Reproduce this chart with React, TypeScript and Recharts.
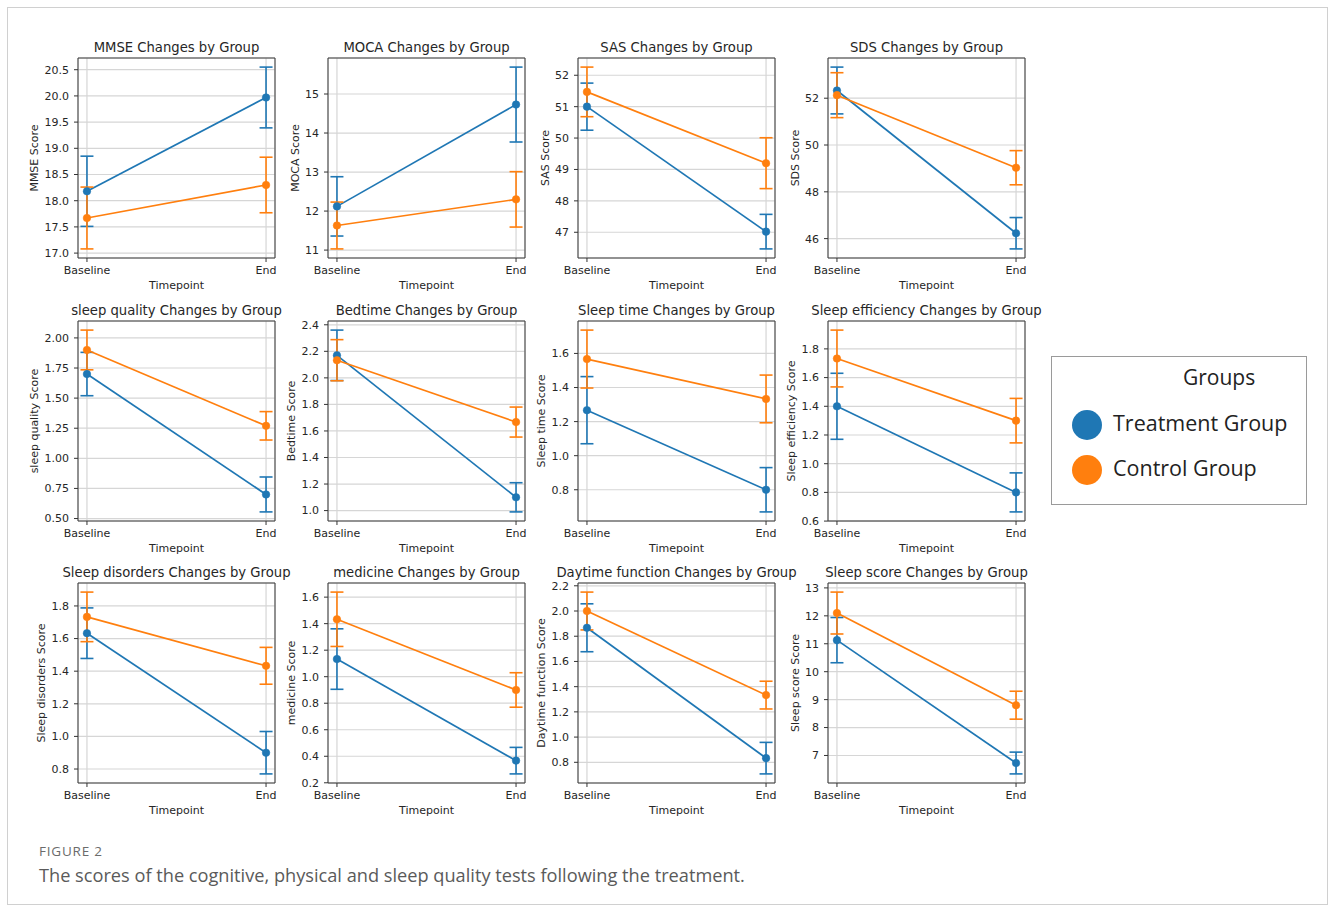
import React from "react";
import {
  LineChart,
  Line,
  XAxis,
  YAxis,
  CartesianGrid,
  ErrorBar,
  ReferenceArea,
} from "recharts";

const measures = [
  "MMSE",
  "MOCA",
  "SAS",
  "SDS",
  "sleep quality",
  "Bedtime",
  "Sleep time",
  "Sleep efficiency",
  "Sleep disorders",
  "medicine",
  "Daytime function",
  "Sleep score",
];
const timepoints = ["Baseline", "End"];
const groups = ["Treatment Group", "Control Group"];

// means and error half-widths
const treatmentBaseline = [18.18, 12.12, 51.0, 52.33, 1.7, 2.17, 1.267, 1.4, 1.633, 1.133, 1.867, 11.13];
const treatmentBaselineErr = [0.67, 0.76, 0.75, 1.0, 0.18, 0.19, 0.197, 0.23, 0.155, 0.228, 0.19, 0.81];
const treatmentEnd = [19.97, 14.73, 47.02, 46.23, 0.7, 1.1, 0.8, 0.8, 0.9, 0.367, 0.833, 6.73];
const treatmentEndErr = [0.58, 0.96, 0.55, 0.67, 0.145, 0.11, 0.13, 0.136, 0.13, 0.1, 0.125, 0.39];
const controlBaseline = [17.67, 11.63, 51.47, 52.13, 1.9, 2.133, 1.567, 1.733, 1.733, 1.433, 2.0, 12.1];
const controlBaselineErr = [0.59, 0.6, 0.79, 0.96, 0.165, 0.155, 0.17, 0.198, 0.152, 0.205, 0.15, 0.75];
const controlEnd = [18.3, 12.3, 49.2, 49.03, 1.27, 1.667, 1.333, 1.3, 1.433, 0.9, 1.333, 8.8];
const controlEndErr = [0.53, 0.71, 0.81, 0.73, 0.118, 0.113, 0.14, 0.155, 0.113, 0.13, 0.11, 0.5];

const yTicks = [
  [17, 17.5, 18, 18.5, 19, 19.5, 20, 20.5],
  [11, 12, 13, 14, 15],
  [47, 48, 49, 50, 51, 52],
  [46, 48, 50, 52],
  [0.5, 0.75, 1, 1.25, 1.5, 1.75, 2],
  [1, 1.2, 1.4, 1.6, 1.8, 2, 2.2, 2.4],
  [0.8, 1, 1.2, 1.4, 1.6],
  [0.6, 0.8, 1, 1.2, 1.4, 1.6, 1.8],
  [0.8, 1, 1.2, 1.4, 1.6, 1.8],
  [0.2, 0.4, 0.6, 0.8, 1, 1.2, 1.4, 1.6],
  [0.8, 1, 1.2, 1.4, 1.6, 1.8, 2, 2.2],
  [7, 8, 9, 10, 11, 12, 13],
];
const yTickDecimals = [1, 0, 0, 0, 2, 1, 1, 1, 1, 1, 1, 0];

const BLUE = "#1f77b4";
const ORANGE = "#ff7f0e";
const TEXT = "#262626";
const FONT = "DejaVu Sans";

const ROW_TOP = [58, 321, 583];
const PLOT_W = 197;
const PLOT_H = 200;
const AXIS_W = 50;
const TOP_M = 5;
const RIGHT_M = 3;
const XAXIS_H = 31;
const BOTTOM_M = 4;

// rough DejaVu Sans advance widths for numeric labels
const labelWidth = (s: string, size: number) =>
  s.split("").reduce((w, ch) => w + (ch === "." ? 0.318 : ch === "-" ? 0.361 : 0.636), 0) * size;

function Panel({ i }: { i: number }) {
  const col = i % 4;
  const row = Math.floor(i / 4);
  const plotLeft = 78 + col * 250;
  const plotTop = ROW_TOP[row];

  const data = timepoints.map((tp, k) => ({
    x: k,
    tp,
    t: k === 0 ? treatmentBaseline[i] : treatmentEnd[i],
    tErr: k === 0 ? treatmentBaselineErr[i] : treatmentEndErr[i],
    c: k === 0 ? controlBaseline[i] : controlEnd[i],
    cErr: k === 0 ? controlBaselineErr[i] : controlEndErr[i],
  }));

  // matplotlib-style autoscale: data extent incl. error bars plus 5% margin
  const lows = data.flatMap((d) => [d.t - d.tErr, d.c - d.cErr]);
  const highs = data.flatMap((d) => [d.t + d.tErr, d.c + d.cErr]);
  const lo = Math.min(...lows);
  const hi = Math.max(...highs);
  const pad = (hi - lo) * 0.05;
  const domain: [number, number] = [lo - pad, hi + pad];

  const dec = yTickDecimals[i];
  const fmt = (v: number) => v.toFixed(dec);
  const tickW = Math.max(...yTicks[i].map((v) => labelWidth(fmt(v), 11)));
  const labelDist = 19 + tickW;

  const tickStyle = { fontSize: 11, fill: TEXT, fontFamily: FONT };

  return (
    <div style={{ position: "absolute", left: plotLeft - AXIS_W, top: plotTop - TOP_M }}>
      <LineChart
        width={AXIS_W + PLOT_W + RIGHT_M}
        height={TOP_M + PLOT_H + XAXIS_H + BOTTOM_M}
        data={data}
        margin={{ top: TOP_M, right: RIGHT_M, bottom: BOTTOM_M, left: 0 }}
      >
        <CartesianGrid stroke="#d6d6d6" strokeWidth={1.2} />
        <XAxis
          type="number"
          dataKey="x"
          domain={[-0.05, 1.05]}
          ticks={[0, 1]}
          interval={0}
          allowDataOverflow
          tickFormatter={(v: number) => timepoints[v]}
          height={XAXIS_H}
          tickSize={4}
          tickMargin={4}
          axisLine={false}
          tickLine={{ stroke: "#333" }}
          tick={tickStyle}
          label={{
            value: "Timepoint",
            position: "insideBottom",
            offset: 0,
            style: { fontSize: 11, fill: TEXT, fontFamily: FONT },
          }}
        />
        <YAxis
          type="number"
          domain={domain}
          ticks={yTicks[i]}
          interval={0}
          allowDataOverflow
          tickFormatter={fmt}
          width={AXIS_W}
          tickSize={4}
          tickMargin={5}
          axisLine={false}
          tickLine={{ stroke: "#333" }}
          tick={tickStyle}
          label={{
            value: `${measures[i]} Score`,
            angle: -90,
            position: "insideLeft",
            offset: AXIS_W - labelDist,
            style: { fontSize: 11, fill: TEXT, fontFamily: FONT, textAnchor: "middle" },
          }}
        />
        <ReferenceArea
          x1={-0.05}
          x2={1.05}
          y1={domain[0]}
          y2={domain[1]}
          fill="none"
          fillOpacity={0}
          stroke="#3a3a3a"
          strokeWidth={1}
        />
        <Line
          dataKey="t"
          name={groups[0]}
          stroke={BLUE}
          strokeWidth={1.7}
          dot={{ r: 3.8, fill: BLUE, stroke: BLUE, strokeWidth: 0.5 }}
          activeDot={false}
          isAnimationActive={false}
        >
          <ErrorBar dataKey="tErr" direction="y" width={6.5} stroke={BLUE} strokeWidth={1.6} isAnimationActive={false} />
        </Line>
        <Line
          dataKey="c"
          name={groups[1]}
          stroke={ORANGE}
          strokeWidth={1.7}
          dot={{ r: 3.8, fill: ORANGE, stroke: ORANGE, strokeWidth: 0.5 }}
          activeDot={false}
          isAnimationActive={false}
        >
          <ErrorBar dataKey="cErr" direction="y" width={6.5} stroke={ORANGE} strokeWidth={1.6} isAnimationActive={false} />
        </Line>
      </LineChart>
    </div>
  );
}

export default function App() {
  return (
    <div
      style={{
        position: "absolute",
        left: 0,
        top: 0,
        width: 1330,
        height: 909,
        background: "#fff",
        overflow: "hidden",
      }}
    >
      <div
        style={{
          position: "absolute",
          left: 7,
          top: 7,
          width: 1321,
          height: 898,
          border: "1px solid #d0d0d0",
          boxSizing: "border-box",
        }}
      />
      {measures.map((m, i) => (
        <Panel key={m} i={i} />
      ))}

      {/* panel titles */}
      <svg
        width={1330}
        height={909}
        style={{ position: "absolute", left: 0, top: 0, pointerEvents: "none" }}
      >
        {measures.map((m, i) => (
          <text
            key={m}
            x={78 + (i % 4) * 250 + PLOT_W / 2}
            y={ROW_TOP[Math.floor(i / 4)] - 6.5}
            textAnchor="middle"
            fontFamily={FONT}
            fontSize={13.2}
            fill={TEXT}
          >
            {`${m} Changes by Group`}
          </text>
        ))}
      </svg>

      {/* figure legend */}
      <div
        style={{
          position: "absolute",
          left: 1051,
          top: 356,
          width: 256,
          height: 149,
          border: "1px solid #9a9a9a",
          boxSizing: "border-box",
        }}
      />
      <div
        style={{
          position: "absolute",
          left: 1183,
          top: 363,
          fontFamily: "Open Sans",
          fontSize: 21,
          lineHeight: "28px",
          color: "#222",
        }}
      >
        Groups
      </div>
      {groups.map((g, k) => (
        <React.Fragment key={g}>
          <div
            style={{
              position: "absolute",
              left: 1072,
              top: 410 + k * 45,
              width: 30,
              height: 30,
              borderRadius: "50%",
              background: k === 0 ? BLUE : ORANGE,
            }}
          />
          <div
            style={{
              position: "absolute",
              left: 1113,
              top: 409 + k * 45,
              fontFamily: "Open Sans",
              fontSize: 21.5,
              lineHeight: "28px",
              color: "#222",
              whiteSpace: "nowrap",
            }}
          >
            {g}
          </div>
        </React.Fragment>
      ))}

      {/* caption */}
      <div
        style={{
          position: "absolute",
          left: 39,
          top: 842,
          fontFamily: "Open Sans",
          fontSize: 13.5,
          letterSpacing: 0.8,
          lineHeight: "18px",
          color: "#6b6b6b",
        }}
      >
        FIGURE 2
      </div>
      <div
        style={{
          position: "absolute",
          left: 39,
          top: 863,
          fontFamily: "Open Sans",
          fontSize: 18.2,
          lineHeight: "24px",
          color: "#5a5a5a",
          whiteSpace: "nowrap",
        }}
      >
        The scores of the cognitive, physical and sleep quality tests following the treatment.
      </div>
    </div>
  );
}
